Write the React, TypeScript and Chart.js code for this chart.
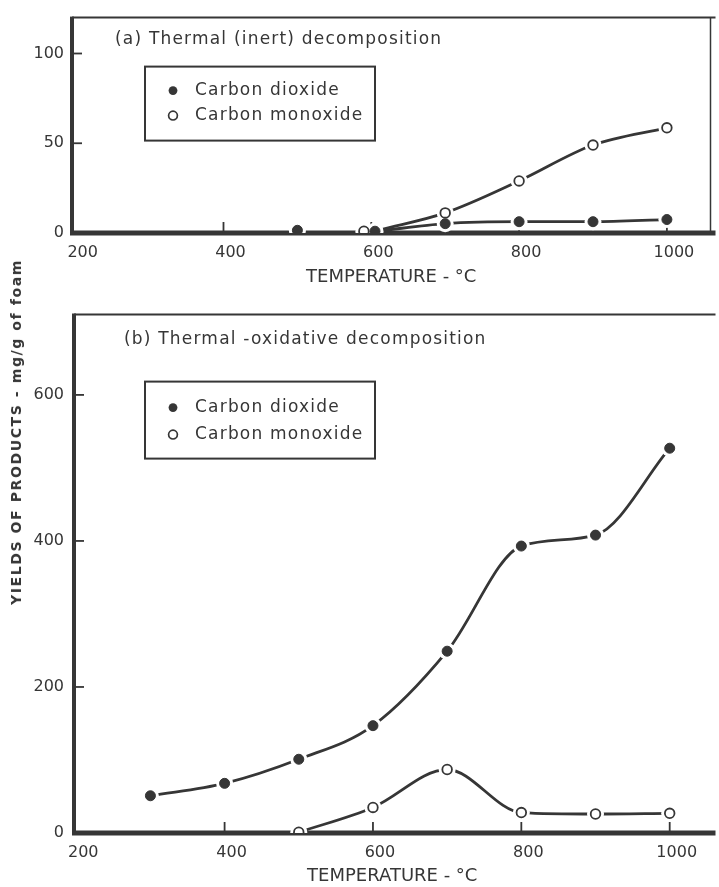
import React, { useEffect, useRef } from "react";
import { Chart, registerables } from "chart.js";

Chart.register(...registerables);

// ---------- shared data ----------
const xTickValues = [200, 400, 600, 800, 1000];
const xInnerTicks = [400, 600, 800, 1000];
const xAxisTitle = "TEMPERATURE - °C";
const yAxisTitle = "YIELDS OF PRODUCTS - mg/g of foam";
const legendLabels = ["Carbon dioxide", "Carbon monoxide"];

// ---------- panel (a) ----------
const aTitle = "(a) Thermal (inert) decomposition";
const aYTicks = [0, 50, 100];
const aCO2Temps = [500, 605, 700, 800, 900, 1000];
const aCO2Yields = [1.5, 1, 5.2, 6.3, 6.3, 7.5];
const aCOTemps = [590, 700, 800, 900, 1000];
const aCOYields = [1, 11.2, 29, 49, 58.6];
const aCO2CurveTemps = [612, 700, 800, 900, 1000];
const aCO2CurveYields = [1.2, 5.2, 6.3, 6.3, 7.5];
const aCOCurveTemps = [612, 700, 800, 900, 1000];
const aCOCurveYields = [1.8, 11.2, 29, 49, 58.6];

// ---------- panel (b) ----------
const bTitle = "(b) Thermal -oxidative decomposition";
const bYTicks = [0, 200, 400, 600];
const bCO2Temps = [300, 400, 500, 600, 700, 800, 900, 1000];
const bCO2Yields = [51, 68, 101, 147, 249, 393, 408, 527];
const bCOTemps = [500, 600, 700, 800, 900, 1000];
const bCOYields = [1, 35, 87, 28, 26, 27];

const INK = "#363636";
const FONT = "'DejaVu Sans', sans-serif";

const pts = (xs: number[], ys: number[]) => xs.map((x, i) => ({ x, y: ys[i] }));

const panelPlugin = {
  id: "panel",
  beforeDatasetsDraw(chart: any, _a: any, o: any) {
    const { ctx, chartArea: a, scales } = chart;
    const line = (x1: number, y1: number, x2: number, y2: number) => {
      ctx.beginPath();
      ctx.moveTo(x1, y1);
      ctx.lineTo(x2, y2);
      ctx.stroke();
    };
    ctx.save();
    ctx.strokeStyle = INK;
    ctx.lineCap = "butt";
    ctx.lineWidth = 2;
    line(a.left, a.top, a.right + 5, a.top);
    if (o.rightBorder) {
      ctx.lineWidth = 1.5;
      line(a.right, a.top, a.right, a.bottom);
    }
    ctx.lineWidth = 4;
    line(a.left, a.top - 1, a.left, a.bottom + 2);
    ctx.lineWidth = 5;
    line(a.left - 2, a.bottom, a.right + 5, a.bottom);
    ctx.lineWidth = 1.8;
    for (const v of o.yTicks) {
      if (v === 0) continue;
      const py = scales.y.getPixelForValue(v);
      line(a.left, py, a.left + 10, py);
    }
    for (const v of o.xTicks) {
      const px = scales.x.getPixelForValue(v);
      line(px, a.bottom, px, a.bottom - 11);
    }
    ctx.restore();
  },
  afterDatasetsDraw(chart: any, _a: any, o: any) {
    const { ctx, chartArea: a } = chart;
    ctx.save();
    ctx.fillStyle = INK;
    ctx.textBaseline = "middle";
    ctx.textAlign = "left";
    ctx.font = `17px ${FONT}`;
    (ctx as any).letterSpacing = "1.2px";
    ctx.fillText(o.title, a.left + o.titleDx, a.top + o.titleDy);
    // legend box
    const bx = a.left + o.legDx, by = a.top + o.legDy;
    ctx.strokeStyle = INK;
    ctx.lineWidth = 2;
    ctx.strokeRect(bx, by, o.legW, o.legH);
    const rows = [o.legRow1, o.legRow2];
    rows.forEach((ry: number, i: number) => {
      const cy = by + ry;
      ctx.beginPath();
      ctx.arc(bx + 28, cy, 4.4, 0, Math.PI * 2);
      if (i === 0) {
        ctx.fillStyle = INK;
        ctx.fill();
      } else {
        ctx.fillStyle = "#fff";
        ctx.fill();
        ctx.lineWidth = 1.7;
        ctx.stroke();
      }
      ctx.fillStyle = INK;
      ctx.fillText(legendLabels[i], bx + 50, cy);
    });
    ctx.restore();
  },
};

function buildChart(canvas: HTMLCanvasElement, p: any) {
  const markerFilled = pts(p.co2T, p.co2Y);
  const markerOpen = pts(p.coT, p.coY);
  return new Chart(canvas, {
    type: "line",
    data: {
      datasets: [
        {
          data: markerFilled,
          showLine: false,
          pointRadius: 5,
          pointBackgroundColor: INK,
          pointBorderColor: INK,
          pointBorderWidth: 1,
          order: 0,
        },
        {
          data: markerOpen,
          showLine: false,
          pointRadius: 4.8,
          pointBackgroundColor: "#ffffff",
          pointBorderColor: INK,
          pointBorderWidth: 1.8,
          order: 0,
        },
        {
          data: [...markerFilled, ...markerOpen],
          showLine: false,
          pointRadius: 8.5,
          pointBackgroundColor: "#ffffff",
          pointBorderWidth: 0,
          order: 1,
        },
        {
          data: pts(p.co2CurveT, p.co2CurveY),
          borderColor: INK,
          borderWidth: 2.8,
          pointRadius: 0,
          cubicInterpolationMode: "monotone",
          order: 2,
        },
        {
          data: pts(p.coCurveT, p.coCurveY),
          borderColor: INK,
          borderWidth: 2.8,
          pointRadius: 0,
          cubicInterpolationMode: "monotone",
          order: 2,
        },
      ],
    } as any,
    options: {
      animation: false,
      responsive: false,
      maintainAspectRatio: false,
      events: [],
      layout: { padding: { top: p.padTop, left: 0, right: 2, bottom: 0 } },
      plugins: {
        legend: { display: false },
        tooltip: { enabled: false },
        panel: {
          title: p.title,
          titleDx: p.titleDx,
          titleDy: p.titleDy,
          legDx: p.legDx,
          legDy: p.legDy,
          legW: 230,
          legH: p.legH,
          legRow1: p.legRow1,
          legRow2: p.legRow2,
          yTicks: p.yTicks,
          xTicks: xInnerTicks,
          rightBorder: p.rightBorder,
        },
      } as any,
      scales: {
        x: {
          type: "linear",
          min: p.xMin,
          max: p.xMax,
          grid: { display: false, drawTicks: false },
          border: { display: false },
          afterBuildTicks: (s: any) => {
            s.ticks = xTickValues.map((v) => ({ value: v }));
          },
          afterFit: (s: any) => {
            s.height = p.xAxisH;
          },
          ticks: {
            autoSkip: false,
            maxRotation: 0,
            padding: 10,
            labelOffset: 7,
            color: INK,
            font: { family: FONT, size: 16 },
            callback: (v: any) => String(v),
          },
          title: {
            display: true,
            text: xAxisTitle,
            color: INK,
            font: { family: FONT, size: 18 },
            padding: { top: 0, bottom: p.titlePadBottom },
          },
        },
        y: {
          type: "linear",
          min: 0,
          max: p.yMax,
          grid: { display: false, drawTicks: false },
          border: { display: false },
          afterBuildTicks: (s: any) => {
            s.ticks = p.yTicks.map((v: number) => ({ value: v }));
          },
          afterFit: (s: any) => {
            s.width = p.yAxisW;
          },
          ticks: {
            autoSkip: false,
            padding: p.yPad,
            color: INK,
            font: { family: FONT, size: 16 },
            callback: (v: any) => String(v),
          },
        },
      },
    } as any,
    plugins: [panelPlugin as any],
  });
}

const panelA = {
  title: aTitle,
  titleDx: 43,
  titleDy: 22,
  legDx: 73,
  legDy: 49,
  legH: 74,
  legRow1: 24,
  legRow2: 49,
  yTicks: aYTicks,
  yMax: 120,
  xMin: 195,
  xMax: 1059,
  padTop: 10,
  xAxisH: 59,
  titlePadBottom: 4,
  yAxisW: 72,
  yPad: 8,
  rightBorder: true,
  co2T: aCO2Temps,
  co2Y: aCO2Yields,
  coT: aCOTemps,
  coY: aCOYields,
  co2CurveT: aCO2CurveTemps,
  co2CurveY: aCO2CurveYields,
  coCurveT: aCOCurveTemps,
  coCurveY: aCOCurveYields,
};

const panelB = {
  title: bTitle,
  titleDx: 50,
  titleDy: 25,
  legDx: 71,
  legDy: 67,
  legH: 77,
  legRow1: 26,
  legRow2: 53,
  yTicks: bYTicks,
  yMax: 710,
  xMin: 197,
  xMax: 1055,
  padTop: 13,
  xAxisH: 54,
  titlePadBottom: 0,
  yAxisW: 74,
  yPad: 10,
  rightBorder: false,
  co2T: bCO2Temps,
  co2Y: bCO2Yields,
  coT: bCOTemps,
  coY: bCOYields,
  co2CurveT: bCO2Temps,
  co2CurveY: bCO2Yields,
  coCurveT: bCOTemps,
  coCurveY: bCOYields,
};

export default function App() {
  const refA = useRef<HTMLCanvasElement>(null);
  const refB = useRef<HTMLCanvasElement>(null);
  useEffect(() => {
    const ca = buildChart(refA.current!, panelA);
    const cb = buildChart(refB.current!, panelB);
    return () => {
      ca.destroy();
      cb.destroy();
    };
  }, []);
  return (
    <div
      style={{
        position: "absolute",
        left: 0,
        top: 0,
        width: 719,
        height: 887,
        overflow: "hidden",
        background: "#ffffff",
      }}
    >
      <canvas
        ref={refA}
        width={719}
        height={292}
        style={{ position: "absolute", left: 0, top: 0, width: 719, height: 292 }}
      />
      <canvas
        ref={refB}
        width={719}
        height={592}
        style={{ position: "absolute", left: 0, top: 295, width: 719, height: 592 }}
      />
      <div
        style={{
          position: "absolute",
          left: 16,
          top: 432,
          transform: "translate(-50%, -50%) rotate(-90deg)",
          whiteSpace: "nowrap",
          fontFamily: FONT,
          fontWeight: "bold",
          fontSize: 14,
          letterSpacing: "1.6px",
          color: INK,
        }}
      >
        {yAxisTitle}
      </div>
    </div>
  );
}
